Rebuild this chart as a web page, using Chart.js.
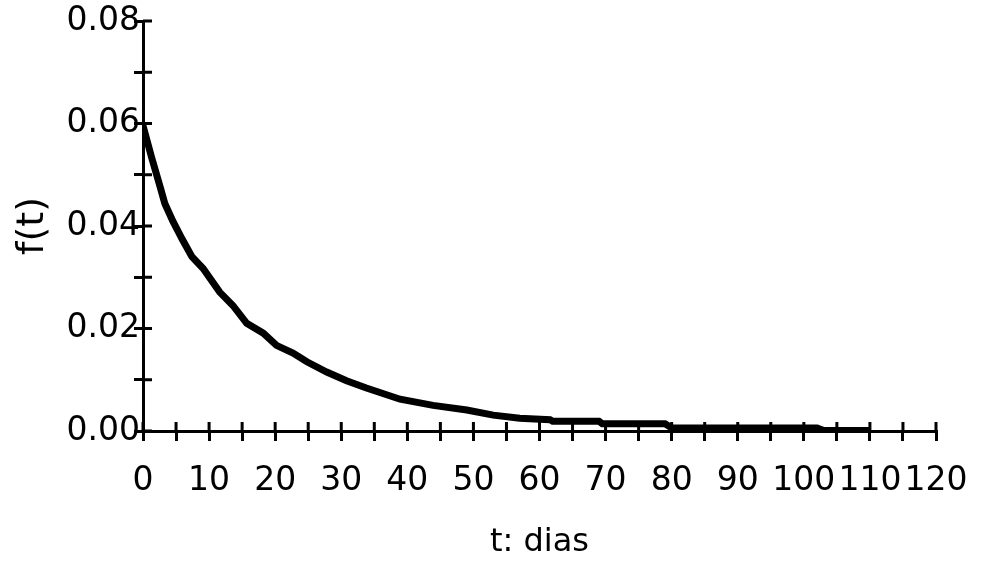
<!DOCTYPE html>
<html>
<head>
<meta charset="utf-8">
<script src="https://cdn.jsdelivr.net/npm/chart.js@4"></script>
<style>
  html, body { margin: 0; padding: 0; background: #fff; }
  #wrap { width: 983px; height: 563px; }
</style>
</head>
<body>
<div id="wrap"><canvas id="graficoFt"></canvas></div>
<script>
// t (dias) e f(t)
const tDias = [0, 1.3, 2.6, 3.3, 4.5, 5.9, 7.4, 9.1, 11.6, 13.6, 15.7, 18.2, 20.2, 22.7, 24.8, 27.8, 30.8, 33.8, 38.9, 43.9, 49, 53, 57, 61.6, 62, 69, 69.5, 79, 80, 102, 103, 110];
const fValores = [0.0596, 0.0534, 0.0476, 0.0444, 0.041, 0.0375, 0.034, 0.0317, 0.0271, 0.0245, 0.0210, 0.0191, 0.0167, 0.0152, 0.0135, 0.0115, 0.0098, 0.0084, 0.0062, 0.0050, 0.0041, 0.0031, 0.0025, 0.0022, 0.0019, 0.0019, 0.0014, 0.0014, 0.0006, 0.0006, 0.0001, 0.0001];

const xMin = 0, xMax = 120, xPasso = 5, xRotulo = 10;
const yMin = 0, yMax = 0.08, yPasso = 0.01;

const fonte = "'DejaVu Sans', sans-serif";

let pontos = tDias.map((t, i) => ({ x: t, y: fValores[i] }));

// marcas dos ticks para dentro da area do grafico
const ticksInternos = {
    id: 'ticksInternos',
    afterDraw(chart) {
        const ctx = chart.ctx;
        const area = chart.chartArea;
        const sx = chart.scales.x, sy = chart.scales.y;
        ctx.save();
        ctx.strokeStyle = '#000';
        ctx.lineWidth = 3;
        ctx.beginPath();
        sx.ticks.forEach(tk => {
            let px = sx.getPixelForValue(tk.value);
            ctx.moveTo(px, area.bottom);
            ctx.lineTo(px, area.bottom - 9);
        });
        sy.ticks.forEach(tk => {
            let py = sy.getPixelForValue(tk.value);
            ctx.moveTo(area.left, py);
            ctx.lineTo(area.left + 9, py);
        });
        ctx.stroke();
        ctx.restore();
    }
};

var ctx = document.getElementById('graficoFt').getContext('2d');

var grafico = new Chart(ctx, {
    type: 'line',
    data: {
        datasets: [{
            data: pontos,
            borderColor: '#000',
            borderWidth: 7,
            pointRadius: 0,
            tension: 0,
            fill: false
        }]
    },
    options: {
        responsive: true,
        maintainAspectRatio: false,
        animation: false,
        layout: {
            padding: { left: 5, right: 47, top: 21, bottom: 0 }
        },
        plugins: {
            legend: { display: false },
            tooltip: { enabled: false }
        },
        scales: {
            x: {
                type: 'linear',
                min: xMin,
                max: xMax,
                afterFit: s => { s.height = 132; s.paddingRight = 0; s.paddingLeft = 0; },
                border: { color: '#000', width: 3 },
                grid: { drawOnChartArea: false, color: '#000', lineWidth: 3, tickLength: 10 },
                ticks: {
                    stepSize: xPasso,
                    autoSkip: false,
                    maxRotation: 0,
                    color: '#000',
                    padding: 21,
                    font: { family: fonte, size: 33 },
                    callback: v => (v % xRotulo === 0 ? String(v) : '')
                },
                title: {
                    display: true,
                    text: 't: dias',
                    color: '#000',
                    font: { family: fonte, size: 32 },
                    padding: 1
                }
            },
            y: {
                min: yMin,
                max: yMax,
                afterFit: s => { s.width = 138; },
                border: { color: '#000', width: 3 },
                grid: { drawOnChartArea: false, color: '#000', lineWidth: 3, tickLength: 9 },
                ticks: {
                    stepSize: yPasso,
                    autoSkip: false,
                    color: '#000',
                    padding: -6,
                    font: { family: fonte, size: 33 },
                    callback: v => (Math.round(v * 100) % 2 === 0 ? v.toFixed(2) : '')
                },
                title: {
                    display: true,
                    text: 'f(t)',
                    color: '#000',
                    font: { family: fonte, size: 38 },
                    padding: 5
                }
            }
        }
    },
    plugins: [ticksInternos]
});
</script>
</body>
</html>
